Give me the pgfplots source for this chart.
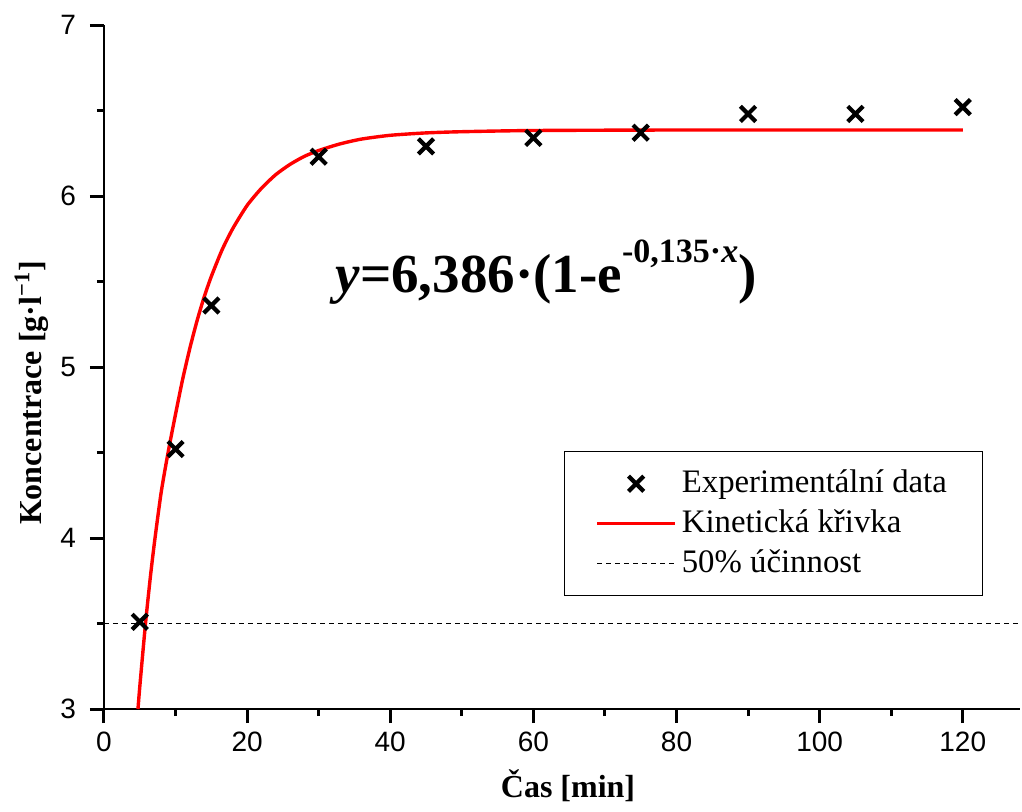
\documentclass[border=0pt]{standalone}
\usepackage{pgfplots}
\pgfplotsset{compat=1.18}
\usepackage{fontspec}
\setmainfont{Liberation Serif}
\setsansfont{Liberation Sans}

% measured concentrations
\pgfplotstableread{
t    c
5    3.51
10   4.52
15   5.36
30   6.23
45   6.29
60   6.34
75   6.37
90   6.48
105  6.48
120  6.52
}\expdata

% fitted kinetic curve
\pgfplotstableread{
t     c
4.75  3.00
5.0   3.13
5.8   3.50
6.5   3.78
7.1   3.99
8.0   4.27
9.0   4.51
10.0  4.725
11.0  4.93
12.0  5.11
13.0  5.27
14.0  5.41
15.0  5.53
16.5  5.685
18.0  5.81
20.0  5.945
22.0  6.045
24.0  6.125
26.0  6.185
28.0  6.232
30.0  6.266
33.0  6.305
36.0  6.333
40.0  6.355
45.0  6.369
50.0  6.376
60.0  6.383
80.0  6.386
100   6.386
120   6.386
}\fitdata

\begin{document}
\begin{tikzpicture}
\begin{axis}[
  name=ax,
  scale only axis,
  width=458pt, height=342pt,
  xmin=0, xmax=128, ymin=3, ymax=7,
  axis x line=bottom, axis y line=left,
  axis line style={-, line width=1.4pt},
  xtick={0,20,...,120}, minor xtick={10,30,...,110},
  ytick={3,4,5,6,7}, minor ytick={3.5,4.5,5.5,6.5},
  xtick align=outside, ytick align=outside,
  major tick length=7pt, minor tick length=3.5pt,
  major tick style={black, line width=1.5pt},
  minor tick style={black, line width=1.5pt},
  ticklabel style={font=\sffamily\fontsize{14}{16}\selectfont},
  xticklabel style={yshift=-1pt},
  yticklabel style={xshift=-3.5pt},
  /pgf/number format/assume math mode=true,
  xlabel={\bfseries Čas [min]},
  ylabel={\bfseries Koncentrace [g·l\textsuperscript{−1}]},
  label style={font=\fontsize{16}{19}\selectfont},
  xlabel style={at={(axis description cs:0.5066,-0.1301)}, anchor=base},
  ylabel style={at={(axis description cs:-0.0677,0.462)}, anchor=base},
  legend cell align=left,
  legend style={
    at={(axis description cs:0.502,0.377)}, anchor=north west,
    draw=black, line width=0.6pt,
    font=\fontsize{16.4}{19}\selectfont,
    inner xsep=15.5pt, inner ysep=6pt,
    nodes={inner xsep=2.5pt, inner ysep=1.5pt, text height=13pt, text depth=4pt},
    row sep=0pt,
  },
  legend image code/.code={%
    \draw[mark repeat=2, mark phase=2, #1]
      plot coordinates {(0pt,0pt) (19.5pt,0pt) (39pt,0pt)};},
]
\addplot[only marks, mark=x, mark size=5.4pt, line width=2.1pt, black]
  table[x=t, y=c] {\expdata};
\addlegendentry{Experimentální data}

\addplot[red, line width=1.7pt, smooth, tension=0.4]
  table[x=t, y=c] {\fitdata};
\addlegendentry{Kinetická křivka}

\addplot[black, line width=0.5pt, dash pattern=on 2.5pt off 2pt]
  coordinates {(0,3.5) (128,3.5)};
\addlegendentry{50\% účinnost}

\node[anchor=base west, inner sep=0pt, font=\fontsize{27.5}{32}\selectfont\bfseries]
  at (axis cs:32.3,5.433)
  {\textit{y}=6,386·(1-e\raisebox{0.55em}{\fontsize{17}{20}\selectfont -0,135·\textit{x}})};
\end{axis}
\pgfresetboundingbox
\path[use as bounding box] (ax.south west) ++(-52pt,-51pt) rectangle ++(511pt,405.5pt);
\end{tikzpicture}
\end{document}
